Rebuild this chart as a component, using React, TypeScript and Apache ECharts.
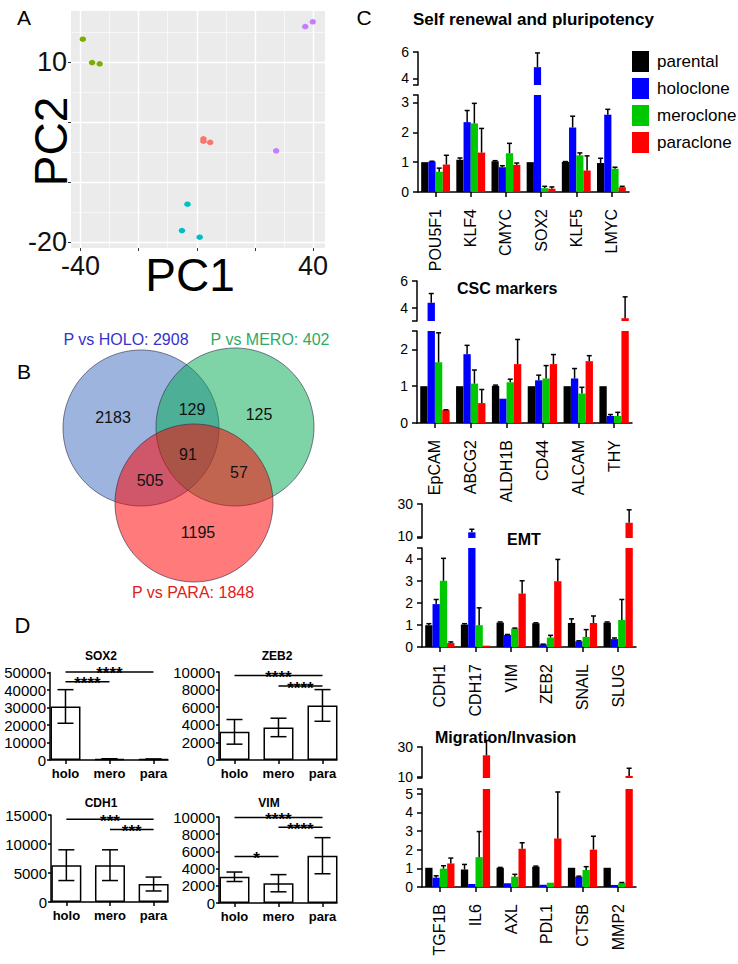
import React, { useEffect, useRef } from 'react';
import * as echarts from 'echarts';

const FONT = '"Liberation Sans", Arial, Helvetica, sans-serif';

// ---------------- Panel A: PCA ----------------
const pcaGreen = [[-39.2, 13.8], [-36.0, 9.9], [-33.4, 9.7]];
const pcaPurple = [[37.3, 15.9], [39.9, 16.7], [27.3, -4.8]];
const pcaRed = [[2.3, -2.8], [2.3, -3.2], [4.6, -3.4]];
const pcaCyan = [[-3.2, -13.7], [-5.1, -18.1], [1.0, -19.2]];
const pcaMajorX = [-40, -20, 0, 20, 40];
const pcaMinorX = [-30, -10, 10, 30];
const pcaMajorY = [-20, -10, 0, 10];
const pcaMinorY = [-15, -5, 5, 15];
const pcaLabelX = [-40, 40];
const pcaLabelY = [-20, 10];

// ---------------- Panel B: Venn ----------------
const vennNames = ['P vs HOLO', 'P vs MERO', 'P vs PARA'];
const vennTotals = [2908, 402, 1848];
const vennRegions = ['HOLO only', 'HOLO & MERO', 'MERO only', 'all three', 'HOLO & PARA', 'MERO & PARA', 'PARA only'];
const vennCounts = [2183, 129, 125, 91, 505, 57, 1195];

// ---------------- Panel C: qPCR bars ----------------
const cGroups = ['parental', 'holoclone', 'meroclone', 'paraclone'];

const selfGenes = ['POU5F1', 'KLF4', 'CMYC', 'SOX2', 'KLF5', 'LMYC'];
const selfParental = [1.0, 1.08, 1.03, 1.0, 1.01, 0.97];
const selfHolo = [1.02, 2.34, 0.83, 4.85, 2.16, 2.59];
const selfMero = [0.68, 2.3, 1.3, 0.13, 1.23, 0.78];
const selfPara = [0.92, 1.32, 0.91, 0.11, 0.72, 0.16];
const selfParentalErr = [0, 0.06, 0.02, 0, 0.01, 0.16];
const selfHoloErr = [0.01, 0.39, 0.05, 1.08, 0.38, 0.18];
const selfMeroErr = [0.12, 0.67, 0.33, 0.06, 0.08, 0.05];
const selfParaErr = [0.31, 0.81, 0.06, 0.06, 0.49, 0.03];
const selfLowerTicks = [0, 1, 2, 3];
const selfUpperTicks = [4, 6];

const cscGenes = ['EpCAM', 'ABCG2', 'ALDH1B', 'CD44', 'ALCAM', 'THY'];
const cscParental = [1.0, 1.0, 1.01, 1.0, 1.0, 1.0];
const cscHolo = [4.37, 1.87, 0.66, 1.16, 1.21, 0.19];
const cscMero = [1.65, 1.07, 1.11, 1.21, 0.8, 0.19];
const cscPara = [0.35, 0.54, 1.6, 1.6, 1.68, 3.21];
const cscParentalErr = [0, 0, 0.02, 0, 0, 0];
const cscHoloErr = [0.69, 0.24, 0, 0.14, 0.27, 0.04];
const cscMeroErr = [0.8, 0.37, 0.08, 0.35, 0.17, 0.1];
const cscParaErr = [0.01, 0.37, 0.67, 0.26, 0.15, 1.6];
const cscLowerTicks = [0, 1, 2];
const cscUpperTicks = [4, 6];

const emtGenes = ['CDH1', 'CDH17', 'VIM', 'ZEB2', 'SNAIL', 'SLUG'];
const emtParental = [0.99, 1.02, 1.11, 1.08, 1.09, 1.11];
const emtHolo = [1.95, 12.5, 0.55, 0.12, 0.26, 0.36];
const emtMero = [3.01, 0.99, 0.84, 0.43, 0.46, 1.23];
const emtPara = [0.18, 0.06, 2.43, 2.99, 1.09, 18.4];
const emtParentalErr = [0.07, 0.04, 0.03, 0.02, 0.19, 0.03];
const emtHoloErr = [0.21, 1.9, 0.02, 0.01, 0.02, 0.05];
const emtMeroErr = [1.02, 0.79, 0.02, 0.1, 0.33, 0.93];
const emtParaErr = [0.05, 0, 0.58, 0.99, 0.32, 8.0];
const emtLowerTicks = [0, 1, 2, 3, 4];
const emtUpperTicks = [10, 30];

const migGenes = ['TGF1B', 'IL6', 'AXL', 'PDL1', 'CTSB', 'MMP2'];
const migParental = [1.03, 0.94, 1.03, 1.09, 1.03, 1.03];
const migHolo = [0.5, 0.16, 0.2, 0.12, 0.55, 0.11];
const migMero = [0.98, 1.6, 0.55, 0.23, 0.91, 0.21];
const migPara = [1.26, 24.4, 2.05, 2.6, 2.0, 10.4];
const migParentalErr = [0, 0.27, 0.02, 0.03, 0, 0];
const migHoloErr = [0.1, 0, 0, 0, 0.03, 0];
const migMeroErr = [0.16, 1.37, 0.13, 0, 0.18, 0.03];
const migParaErr = [0.29, 10.0, 0.32, 2.49, 0.72, 5.2];
const migLowerTicks = [0, 1, 2, 3, 4, 5];
const migUpperTicks = [10, 30];

// ---------------- Panel D ----------------
const dCats = ['holo', 'mero', 'para'];
const sox2Mean = [30600, 550, 450];
const sox2Sd = [9600, 150, 100];
const zeb2Mean = [3200, 3700, 6200];
const zeb2Sd = [1400, 1050, 1800];
const cdh1Mean = [6350, 6350, 3100];
const cdh1Sd = [2650, 2650, 1200];
const vimMean = [3050, 2300, 5500];
const vimSd = [550, 1000, 2100];
const sox2Sig = [[0, 2, 50300], [0, 1, 44700]];
const sox2SigLabels = ['****', '****'];
const zeb2Sig = [[0, 2, 9600], [1, 2, 8400]];
const zeb2SigLabels = ['****', '****'];
const cdh1Sig = [[0, 2, 14250], [1, 2, 12500]];
const cdh1SigLabels = ['***', '***'];
const vimSig = [[0, 2, 9950], [1, 2, 8800], [0, 1, 5400]];
const vimSigLabels = ['****', '****', '*'];

// ---------------- styling / layout ----------------
const cColors = ['#000000', '#0000FF', '#00C800', '#FF0000'];
const pcaColors = ['#7CAE00', '#C77CFF', '#F8766D', '#00BFC4'];
const CAT_GAP = 0.18;

const cLayout = [
  { left: 418, width: 211, upperTop: 52, upperH: 33, lowerTop: 95, lowerH: 97, lower: [0, 3.25], upper: [3.5, 6] },
  { left: 417, width: 215, upperTop: 281, upperH: 40, lowerTop: 331, lowerH: 92, lower: [0, 2.5], upper: [3, 6] },
  { left: 422, width: 214, upperTop: 504, upperH: 34, lowerTop: 548, lowerH: 99, lower: [0, 4.5], upper: [9, 30] },
  { left: 422, width: 214, upperTop: 747, upperH: 31, lowerTop: 789, lowerH: 98, lower: [0, 5.25], upper: [9, 30] },
];

const dLayout = [
  { left: 50, top: 672.5, width: 118, height: 87.5, max: 50000, interval: 10000 },
  { left: 219, top: 672, width: 118, height: 88, max: 10000, interval: 2000 },
  { left: 51, top: 815, width: 117, height: 87, max: 15000, interval: 5000 },
  { left: 219, top: 817, width: 118, height: 86, max: 10000, interval: 2000 },
];

function txt(text: string, x: number, y: number, size: number, opts: any = {}) {
  return {
    type: 'text',
    x,
    y,
    rotation: opts.rotation || 0,
    silent: true,
    style: {
      text,
      fill: opts.color || '#000',
      fontSize: size,
      fontFamily: FONT,
      fontWeight: opts.bold ? 'bold' : 'normal',
      align: opts.align || 'center',
      textAlign: opts.align || 'center',
      verticalAlign: 'middle',
      textVerticalAlign: 'middle',
    },
  };
}

function cErrRender(params: any, api: any) {
  const i = api.value(0);
  const v = api.value(1);
  const top = api.value(2);
  const g = api.value(3);
  const band = api.size([1, 0])[0];
  const bw = (band * (1 - CAT_GAP)) / 4;
  const base = api.coord([i, v]);
  const t = api.coord([i, top]);
  const x = base[0] + (g - 1.5) * bw;
  const style = { stroke: '#000', lineWidth: 1.5 };
  return {
    type: 'group',
    children: [
      { type: 'line', shape: { x1: x, y1: base[1], x2: x, y2: t[1] }, style },
      { type: 'line', shape: { x1: x - 2.5, y1: t[1], x2: x + 2.5, y2: t[1] }, style },
    ],
  };
}

function dErrRender(params: any, api: any) {
  const x = api.value(0);
  const m = api.value(1);
  const sd = api.value(2);
  const lo = api.coord([x, m - sd]);
  const hi = api.coord([x, m + sd]);
  const style = { stroke: '#000', lineWidth: 1.5 };
  return {
    type: 'group',
    children: [
      { type: 'line', shape: { x1: lo[0], y1: lo[1], x2: hi[0], y2: hi[1] }, style },
      { type: 'line', shape: { x1: lo[0] - 8, y1: lo[1], x2: lo[0] + 8, y2: lo[1] }, style },
      { type: 'line', shape: { x1: hi[0] - 8, y1: hi[1], x2: hi[0] + 8, y2: hi[1] }, style },
    ],
  };
}

function makeSigRender(labels: string[]) {
  return (params: any, api: any) => {
    const a = api.coord([api.value(0), api.value(2)]);
    const b = api.coord([api.value(1), api.value(2)]);
    return {
      type: 'group',
      children: [
        { type: 'line', shape: { x1: a[0], y1: a[1], x2: b[0], y2: b[1] }, style: { stroke: '#000', lineWidth: 1.5 } },
        {
          type: 'text',
          x: (a[0] + b[0]) / 2,
          y: a[1] + 2,
          style: {
            text: labels[params.dataIndex],
            fill: '#000',
            fontSize: 17,
            fontWeight: 'bold',
            fontFamily: FONT,
            align: 'center',
            verticalAlign: 'middle',
          },
        },
      ],
    };
  };
}

function buildOption() {
  const grid: any[] = [];
  const xAxis: any[] = [];
  const yAxis: any[] = [];
  const series: any[] = [];

  // ---------- A ----------
  grid.push({ left: 71, top: 11, width: 254, height: 237, show: true, backgroundColor: '#EBEBEB', borderWidth: 0 });
  xAxis.push({
    gridIndex: 0, type: 'value', min: -43.26, max: 44.1,
    axisLine: { show: false, onZero: false }, splitLine: { show: false },
    axisTick: { show: true, customValues: pcaMajorX, length: 3, lineStyle: { color: '#333', width: 1 } },
    axisLabel: { customValues: pcaLabelX, fontSize: 27, margin: 4, color: '#111', fontFamily: FONT },
  });
  yAxis.push({
    gridIndex: 0, type: 'value', min: -21, max: 18.5,
    axisLine: { show: false, onZero: false }, splitLine: { show: false },
    axisTick: { show: true, customValues: pcaMajorY, length: 3, lineStyle: { color: '#333', width: 1 } },
    axisLabel: { customValues: pcaLabelY, fontSize: 27, margin: 4, color: '#111', fontFamily: FONT },
  });
  const gridLines: any[] = [];
  pcaMajorX.forEach((v) => gridLines.push({ xAxis: v, lineStyle: { width: 1.4 } }));
  pcaMinorX.forEach((v) => gridLines.push({ xAxis: v, lineStyle: { width: 0.6 } }));
  pcaMajorY.forEach((v) => gridLines.push({ yAxis: v, lineStyle: { width: 1.4 } }));
  pcaMinorY.forEach((v) => gridLines.push({ yAxis: v, lineStyle: { width: 0.6 } }));
  series.push({
    type: 'scatter', name: 'pca-grid', xAxisIndex: 0, yAxisIndex: 0, data: [[0, 0]], symbolSize: 0, silent: true, z: 1,
    markLine: {
      z: 1, silent: true, symbol: ['none', 'none'], label: { show: false }, animation: false,
      lineStyle: { color: '#FFFFFF', type: 'solid' }, data: gridLines,
    },
  });
  [pcaGreen, pcaPurple, pcaRed, pcaCyan].forEach((pts, k) => {
    series.push({
      type: 'scatter', name: 'PCA cluster ' + (k + 1), xAxisIndex: 0, yAxisIndex: 0, data: pts,
      symbolSize: [6.5, 5.5], itemStyle: { color: pcaColors[k], opacity: 1 }, z: 10,
    });
  });

  // ---------- C ----------
  const cSubs = [
    { genes: selfGenes, vals: [selfParental, selfHolo, selfMero, selfPara], errs: [selfParentalErr, selfHoloErr, selfMeroErr, selfParaErr], lowT: selfLowerTicks, upT: selfUpperTicks },
    { genes: cscGenes, vals: [cscParental, cscHolo, cscMero, cscPara], errs: [cscParentalErr, cscHoloErr, cscMeroErr, cscParaErr], lowT: cscLowerTicks, upT: cscUpperTicks },
    { genes: emtGenes, vals: [emtParental, emtHolo, emtMero, emtPara], errs: [emtParentalErr, emtHoloErr, emtMeroErr, emtParaErr], lowT: emtLowerTicks, upT: emtUpperTicks },
    { genes: migGenes, vals: [migParental, migHolo, migMero, migPara], errs: [migParentalErr, migHoloErr, migMeroErr, migParaErr], lowT: migLowerTicks, upT: migUpperTicks },
  ];
  const axisLineStyle = { color: '#000', width: 1.5 };
  cSubs.forEach((s, k) => {
    const L = cLayout[k];
    const gu = grid.length;
    grid.push({ left: L.left, top: L.upperTop, width: L.width, height: L.upperH });
    const gl = grid.length;
    grid.push({ left: L.left, top: L.lowerTop, width: L.width, height: L.lowerH });
    const xu = xAxis.length;
    xAxis.push({ gridIndex: gu, type: 'category', data: s.genes, show: false });
    const xl = xAxis.length;
    xAxis.push({
      gridIndex: gl, type: 'category', data: s.genes,
      axisLine: { show: true, onZero: false, lineStyle: axisLineStyle },
      axisTick: { show: true, alignWithLabel: true, length: 5, lineStyle: axisLineStyle },
      axisLabel: { rotate: 90, interval: 0, fontSize: 16, margin: 17, color: '#000', fontFamily: FONT },
    });
    const yu = yAxis.length;
    yAxis.push({
      gridIndex: gu, type: 'value', min: L.upper[0], max: L.upper[1],
      axisLine: { show: true, onZero: false, lineStyle: axisLineStyle }, splitLine: { show: false },
      axisTick: { show: true, customValues: [L.upper[0], ...s.upT], length: 5, lineStyle: axisLineStyle },
      axisLabel: { customValues: s.upT, fontSize: 14, margin: 9, color: '#000', fontFamily: FONT },
    });
    const yl = yAxis.length;
    yAxis.push({
      gridIndex: gl, type: 'value', min: L.lower[0], max: L.lower[1],
      axisLine: { show: true, onZero: false, lineStyle: axisLineStyle }, splitLine: { show: false },
      axisTick: { show: true, customValues: [...s.lowT, L.lower[1]], length: 5, lineStyle: axisLineStyle },
      axisLabel: { customValues: s.lowT, fontSize: 14, margin: 9, color: '#000', fontFamily: FONT },
    });
    s.vals.forEach((vals, g) => {
      const common = {
        type: 'bar', name: cGroups[g], itemStyle: { color: cColors[g] },
        barGap: '0%', barCategoryGap: CAT_GAP * 100 + '%', silent: true,
      };
      series.push({ ...common, xAxisIndex: xl, yAxisIndex: yl, data: vals });
      series.push({ ...common, xAxisIndex: xu, yAxisIndex: yu, data: vals.map((v) => (v > L.lower[1] ? v : '-')) });
    });
    const lowErr: number[][] = [];
    const upErr: number[][] = [];
    s.vals.forEach((vals, g) =>
      vals.forEach((v, i) => {
        const e = s.errs[g][i];
        if (e > 0) (v > L.lower[1] ? upErr : lowErr).push([i, v, v + e, g]);
      })
    );
    series.push({ type: 'custom', name: 'err-low-' + k, xAxisIndex: xl, yAxisIndex: yl, data: lowErr, renderItem: cErrRender, clip: false, silent: true, z: 4, encode: { x: 0, y: 1 } });
    series.push({ type: 'custom', name: 'err-up-' + k, xAxisIndex: xu, yAxisIndex: yu, data: upErr, renderItem: cErrRender, clip: false, silent: true, z: 4, encode: { x: 0, y: 1 } });
  });

  // ---------- D ----------
  const dPanels = [
    { mean: sox2Mean, sd: sox2Sd, sig: sox2Sig, sigLabels: sox2SigLabels },
    { mean: zeb2Mean, sd: zeb2Sd, sig: zeb2Sig, sigLabels: zeb2SigLabels },
    { mean: cdh1Mean, sd: cdh1Sd, sig: cdh1Sig, sigLabels: cdh1SigLabels },
    { mean: vimMean, sd: vimSd, sig: vimSig, sigLabels: vimSigLabels },
  ];
  dPanels.forEach((p, k) => {
    const L = dLayout[k];
    const gi = grid.length;
    grid.push({ left: L.left, top: L.top, width: L.width, height: L.height });
    const xi = xAxis.length;
    xAxis.push({
      gridIndex: gi, type: 'value', min: -0.352, max: 2.33, splitLine: { show: false },
      axisLine: { show: true, onZero: false, lineStyle: axisLineStyle },
      axisTick: { show: true, customValues: [0, 1, 2], length: 4, lineStyle: axisLineStyle },
      axisLabel: {
        customValues: [0, 1, 2], formatter: (v: number) => dCats[Math.round(v)],
        fontSize: 13, fontWeight: 'bold', margin: 7, color: '#000', fontFamily: FONT,
      },
    });
    const yi = yAxis.length;
    yAxis.push({
      gridIndex: gi, type: 'value', min: 0, max: L.max, interval: L.interval, splitLine: { show: false },
      axisLine: { show: true, onZero: false, lineStyle: axisLineStyle },
      axisTick: { show: true, length: 3, lineStyle: axisLineStyle },
      axisLabel: { fontSize: 15, margin: 4, color: '#000', fontFamily: FONT, formatter: (v: number) => String(v) },
    });
    series.push({
      type: 'bar', name: 'D-bars-' + k, xAxisIndex: xi, yAxisIndex: yi, barWidth: 30, silent: true,
      data: p.mean.map((m, i) => [i, m]),
      itemStyle: { color: '#FFFFFF', borderColor: '#000', borderWidth: 1.5 },
    });
    series.push({
      type: 'custom', name: 'D-err-' + k, xAxisIndex: xi, yAxisIndex: yi, clip: false, silent: true, z: 4,
      data: p.mean.map((m, i) => [i, m, p.sd[i]]), renderItem: dErrRender, encode: { x: 0, y: 1 },
    });
    series.push({
      type: 'custom', name: 'D-sig-' + k, xAxisIndex: xi, yAxisIndex: yi, clip: false, silent: true, z: 4,
      data: p.sig, renderItem: makeSigRender(p.sigLabels), encode: { x: [0, 1], y: 2 },
    });
  });

  // ---------- graphics (texts, venn) ----------
  const vennCircles = [
    { cx: 141, cy: 428, r: 78, fill: 'rgba(60,105,190,0.5)' },
    { cx: 235, cy: 427, r: 79, fill: 'rgba(0,170,80,0.5)' },
    { cx: 194, cy: 503, r: 79, fill: 'rgba(255,0,0,0.52)' },
  ];
  const vennTitlePos = [
    { x: 126, y: 339, color: '#3333CC' },
    { x: 270, y: 339, color: '#2EAA66' },
    { x: 193, y: 592, color: '#E02020' },
  ];
  const vennCountPos = [
    [113, 417], [192, 409], [259, 414], [188, 454], [150, 480], [239, 472], [198, 532],
  ];
  const graphic: any[] = [];
  graphic.push(txt('A', 24, 17.5, 21));
  graphic.push(txt('B', 24, 371, 21));
  graphic.push(txt('C', 364, 17.5, 21));
  graphic.push(txt('D', 22.5, 625, 22));
  graphic.push(txt('PC1', 190, 274.5, 46));
  graphic.push(txt('PC2', 51, 141.5, 46, { rotation: Math.PI / 2 }));
  vennCircles.forEach((c) =>
    graphic.push({
      type: 'circle', silent: true, shape: { cx: c.cx, cy: c.cy, r: c.r },
      style: { fill: c.fill, stroke: 'rgba(40,40,70,0.75)', lineWidth: 0.8 },
    })
  );
  vennNames.forEach((n, i) =>
    graphic.push(txt(n + ': ' + vennTotals[i], vennTitlePos[i].x, vennTitlePos[i].y, 16, { color: vennTitlePos[i].color }))
  );
  vennRegions.forEach((r, i) =>
    graphic.push(txt(String(vennCounts[i]), vennCountPos[i][0], vennCountPos[i][1], 16, { color: '#111' }))
  );
  graphic.push(txt('Self renewal and pluripotency', 413, 19.5, 17, { bold: true, align: 'left' }));
  graphic.push(txt('CSC markers', 457, 288, 16, { bold: true, align: 'left' }));
  graphic.push(txt('EMT', 507, 539.5, 16, { bold: true, align: 'left' }));
  graphic.push(txt('Migration/Invasion', 435, 737, 16, { bold: true, align: 'left' }));
  graphic.push(txt('SOX2', 101, 656, 12, { bold: true }));
  graphic.push(txt('ZEB2', 277, 656, 12, { bold: true }));
  graphic.push(txt('CDH1', 101, 802.5, 12, { bold: true }));
  graphic.push(txt('VIM', 269, 802.5, 12, { bold: true }));

  return {
    animation: false,
    backgroundColor: '#FFFFFF',
    textStyle: { fontFamily: FONT },
    grid,
    xAxis,
    yAxis,
    series,
    legend: {
      data: cGroups, left: 627, top: 46, orient: 'vertical', icon: 'rect',
      itemWidth: 17, itemHeight: 21, itemGap: 6, selectedMode: false,
      textStyle: { fontSize: 17, color: '#000', fontFamily: FONT, padding: [0, 0, 0, 3] },
    },
    graphic,
  };
}

export default function App() {
  const ref = useRef<HTMLDivElement>(null);
  useEffect(() => {
    if (!ref.current) return;
    const chart = echarts.init(ref.current, null, { renderer: 'svg' });
    chart.setOption(buildOption() as any);
    return () => chart.dispose();
  }, []);
  return (
    <div
      ref={ref}
      style={{ position: 'absolute', left: 0, top: 0, width: 738, height: 964, background: '#fff' }}
    />
  );
}
